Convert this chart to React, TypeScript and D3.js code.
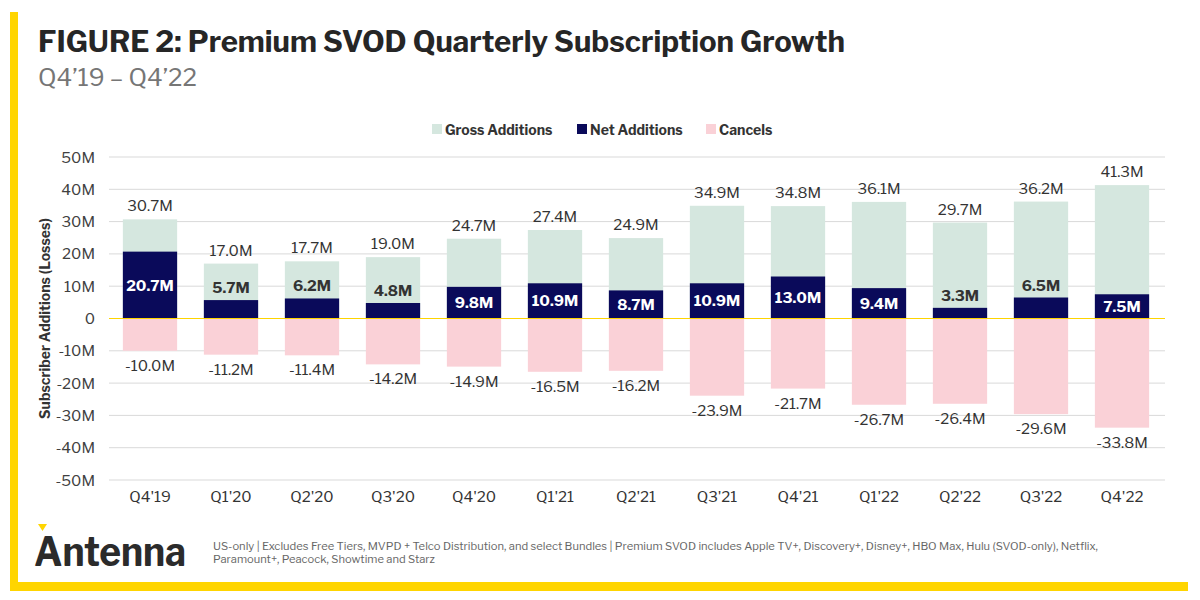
import React from "react";
import * as d3 from "d3";

const quarters = ["Q4'19", "Q1'20", "Q2'20", "Q3'20", "Q4'20", "Q1'21", "Q2'21", "Q3'21", "Q4'21", "Q1'22", "Q2'22", "Q3'22", "Q4'22"];
const grossAdds = [30.7, 17.0, 17.7, 19.0, 24.7, 27.4, 24.9, 34.9, 34.8, 36.1, 29.7, 36.2, 41.3];
const netAdds = [20.7, 5.7, 6.2, 4.8, 9.8, 10.9, 8.7, 10.9, 13.0, 9.4, 3.3, 6.5, 7.5];
const cancels = [-10.0, -11.2, -11.4, -14.2, -14.9, -16.5, -16.2, -23.9, -21.7, -26.7, -26.4, -29.6, -33.8];
const yTicks = [50, 40, 30, 20, 10, 0, -10, -20, -30, -40, -50];
const legendItems = [
  { label: "Gross Additions", color: "#D5E7DF" },
  { label: "Net Additions", color: "#0A0A5A" },
  { label: "Cancels", color: "#FAD1D7" },
];

const FONT = "'Libre Franklin', 'Roboto', 'Liberation Sans', sans-serif";
const YELLOW = "#FFD500";

export default function App() {
  const W = 1200, H = 600;
  const x = d3.scaleBand<string>().domain(quarters).range([109.5, 1162.5]).paddingInner(0.33).paddingOuter(0.165);
  const y = d3.scaleLinear().domain([-50, 50]).range([480, 157]);
  const bw = x.bandwidth();
  const fmt = (v: number) => `${v.toFixed(1)}M`;
  const tickFmt = (v: number) => (v === 0 ? "0" : `${v}M`);

  return (
    <svg width={W} height={H} style={{ display: "block", position: "absolute", left: 0, top: 0 }} fontFamily={FONT}>
      <rect x={0} y={0} width={W} height={H} fill="#fff" />
      {/* frame */}
      <rect x={10} y={12} width={8} height={579} fill={YELLOW} />
      <rect x={10} y={582} width={1178} height={9} fill={YELLOW} />

      {/* title */}
      <text x={38} y={52} fontSize={30} fontWeight={700} fill="#262626" textLength={807} lengthAdjust="spacingAndGlyphs">
        FIGURE 2: Premium SVOD Quarterly Subscription Growth
      </text>
      <text x={38} y={86} fontSize={24} fill="#767676" textLength={159} lengthAdjust="spacingAndGlyphs">Q4’19 – Q4’22</text>

      {/* legend */}
      {(() => {
        const xs = [432, 577, 706];
        return legendItems.map((d, i) => (
          <g key={d.label}>
            <rect x={xs[i]} y={124} width={10} height={10} fill={d.color} />
            <text x={xs[i] + 13} y={134.5} fontSize={14} fontWeight={700} fill="#333">{d.label}</text>
          </g>
        ));
      })()}

      {/* grid */}
      {yTicks.map((t) => (
        <g key={t}>
          {t !== 0 && <line x1={109} x2={1165} y1={y(t)} y2={y(t)} stroke="#d9d9d9" strokeWidth={1} />}
          <text x={95} y={y(t) + 5.5} textAnchor="end" fontSize={15} fill="#404040">{tickFmt(t)}</text>
        </g>
      ))}
      <text transform={`translate(50,${y(0)}) rotate(-90)`} textAnchor="middle" fontSize={14} fontWeight={700} fill="#333">
        Subscriber Additions (Losses)
      </text>

      {/* bars */}
      {quarters.map((q, i) => {
        const x0 = x(q)!;
        const cx = x0 + bw / 2;
        const g = grossAdds[i], n = netAdds[i], c = cancels[i];
        const big = n >= 7;
        return (
          <g key={q}>
            <rect x={x0} y={y(g)} width={bw} height={y(0) - y(g)} fill={legendItems[0].color} />
            <rect x={x0} y={y(n)} width={bw} height={y(0) - y(n)} fill={legendItems[1].color} />
            <rect x={x0} y={y(0)} width={bw} height={y(c) - y(0)} fill={legendItems[2].color} />
            <text x={cx} y={y(g) - 8} textAnchor="middle" fontSize={15} fill="#333">{fmt(g)}</text>
            <text x={cx} y={y(c) + 20} textAnchor="middle" fontSize={15} fill="#333">{fmt(c)}</text>
            {big ? (
              <text x={cx} y={(y(n) + y(0)) / 2 + 5.5} textAnchor="middle" fontSize={15} fontWeight={700} fill="#fff">{fmt(n)}</text>
            ) : (
              <text x={cx} y={y(n) - 7} textAnchor="middle" fontSize={15} fontWeight={700} fill="#333">{fmt(n)}</text>
            )}
            <text x={cx} y={502} textAnchor="middle" fontSize={15} fill="#333">{q}</text>
          </g>
        );
      })}
      <line x1={109} x2={1165} y1={y(0)} y2={y(0)} stroke={YELLOW} strokeWidth={1} />

      {/* footer */}
      <path d="M38,524 L47,524 L42.5,531 Z" fill={YELLOW} />
      <text x={34} y={566} fontSize={40} fontWeight={700} fill="#2b2b2b" textLength={152} lengthAdjust="spacingAndGlyphs">Antenna</text>
      <text x={213} y={550} fontSize={11} fill="#666" textLength={885} lengthAdjust="spacingAndGlyphs">
        US-only | Excludes Free Tiers, MVPD + Telco Distribution, and select Bundles | Premium SVOD includes Apple TV+, Discovery+, Disney+, HBO Max, Hulu (SVOD-only), Netflix,
      </text>
      <text x={213} y={563} fontSize={11} fill="#666" textLength={222} lengthAdjust="spacingAndGlyphs">Paramount+, Peacock, Showtime and Starz</text>
    </svg>
  );
}
